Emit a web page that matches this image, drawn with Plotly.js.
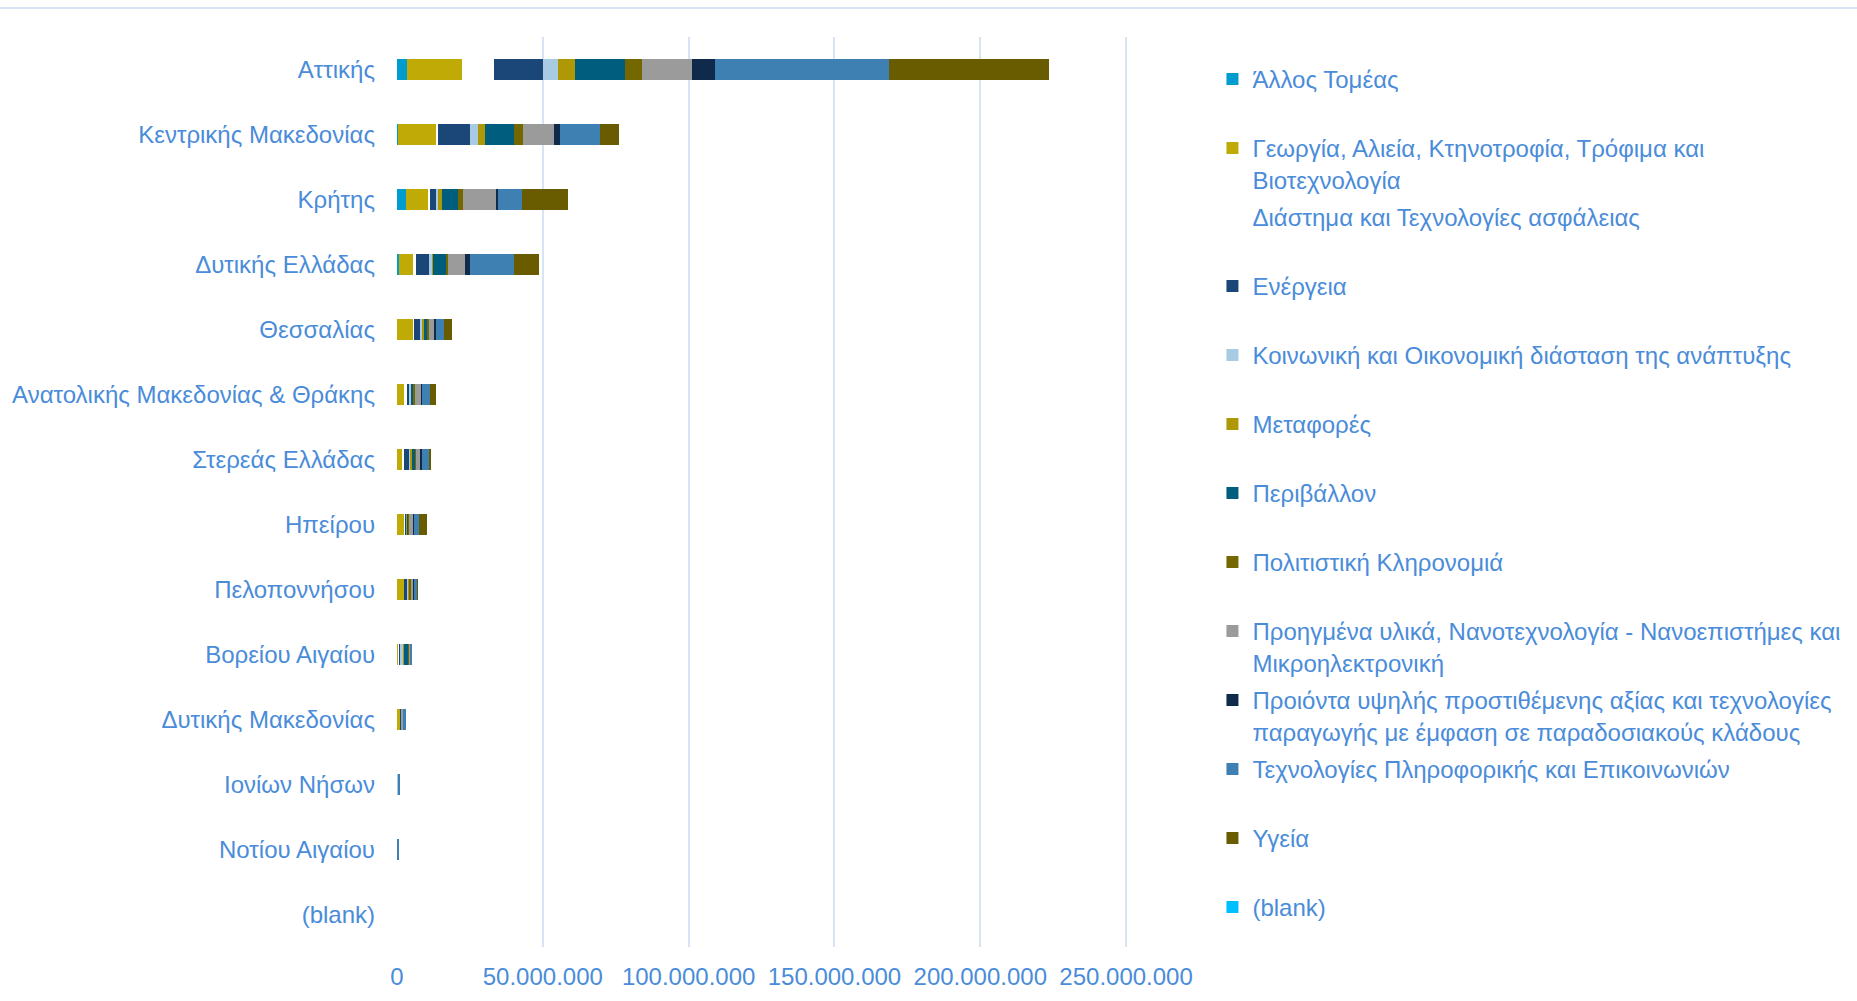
<!DOCTYPE html>
<html>
<head>
<meta charset="utf-8">
<script src="https://cdn.plot.ly/plotly-3.0.1.min.js"></script>
<style>
html,body{margin:0;padding:0;background:#fff;}
#chart{width:1857px;height:1001px;}
#topline{position:absolute;left:0;top:7px;width:1857px;height:2px;background:#D6E4F5;z-index:5;}
</style>
</head>
<body>
<div id="topline"></div>
<div id="chart"></div>
<script>
// Categories (top to bottom)
const regions = ["Αττικής","Κεντρικής Μακεδονίας","Κρήτης","Δυτικής Ελλάδας","Θεσσαλίας",
  "Ανατολικής Μακεδονίας & Θράκης","Στερεάς Ελλάδας","Ηπείρου","Πελοποννήσου","Βορείου Αιγαίου",
  "Δυτικής Μακεδονίας","Ιονίων Νήσων","Νοτίου Αιγαίου","(blank)"];

// Series values (euros), in the same order as regions
const allosTomeas   = [3.5e6, 0.2e6, 3.0e6, 0.6e6, 0.1e6, 0.1e6, 0.1e6, 0.1e6, 0, 0, 0, 0, 0, 0];
const georgia       = [18.7e6, 13.0e6, 7.9e6, 4.8e6, 5.5e6, 2.6e6, 1.9e6, 2.6e6, 2.6e6, 0.6e6, 0.9e6, 0, 0, 0];
const diastima      = [11.0e6, 0.9e6, 0.4e6, 1.1e6, 0.2e6, 0.6e6, 0.5e6, 0.2e6, 0.1e6, 0.3e6, 0, 0, 0, 0];
const energeia      = [16.7e6, 10.9e6, 2.0e6, 4.3e6, 2.0e6, 1.1e6, 1.7e6, 0.3e6, 0.6e6, 0.1e6, 0.7e6, 0, 0, 0];
const koinoniki     = [5.2e6, 2.7e6, 0.8e6, 1.2e6, 1.1e6, 0.4e6, 0.2e6, 0.2e6, 0.7e6, 1.2e6, 0, 0.5e6, 0, 0];
const metafores     = [6.1e6, 2.4e6, 1.2e6, 0.5e6, 0.3e6, 0.2e6, 0.7e6, 0.1e6, 0.2e6, 0.1e6, 0, 0, 0, 0];
const perivallon    = [16.9e6, 9.9e6, 5.5e6, 4.4e6, 1.0e6, 0.5e6, 1.2e6, 0.4e6, 0.2e6, 1.7e6, 0, 0, 0, 0];
const politistiki   = [5.8e6, 3.1e6, 1.9e6, 0.6e6, 0.8e6, 0.5e6, 0.2e6, 0.2e6, 0.3e6, 0.4e6, 0, 0, 0, 0];
const proigmena     = [17.4e6, 10.7e6, 11.4e6, 5.7e6, 2.0e6, 2.3e6, 1.5e6, 1.7e6, 1.1e6, 0.3e6, 0.6e6, 0, 0, 0];
const proionta      = [7.8e6, 2.2e6, 0.7e6, 1.9e6, 0.4e6, 0.3e6, 0.7e6, 0.1e6, 0.1e6, 0, 0, 0, 0, 0];
const tpe           = [59.5e6, 13.6e6, 8.2e6, 15.0e6, 2.6e6, 2.8e6, 2.3e6, 1.7e6, 1.2e6, 0.6e6, 0.8e6, 0.3e6, 0.5e6, 0];
const ygeia         = [54.9e6, 6.5e6, 15.7e6, 8.5e6, 2.7e6, 2.0e6, 0.6e6, 2.7e6, 0.1e6, 0, 0, 0, 0, 0];
const blankSeries   = [0, 0, 0, 0, 0, 0, 0, 0, 0, 0, 0, 0, 0, 0];

// Series names (legend)
const seriesNames = [
  "Άλλος Τομέας",
  "Γεωργία, Αλιεία, Κτηνοτροφία, Τρόφιμα και<br>Βιοτεχνολογία",
  "Διάστημα και Τεχνολογίες ασφάλειας",
  "Ενέργεια",
  "Κοινωνική και Οικονομική διάσταση της ανάπτυξης",
  "Μεταφορές",
  "Περιβάλλον",
  "Πολιτιστική Κληρονομιά",
  "Προηγμένα υλικά, Νανοτεχνολογία - Νανοεπιστήμες και<br>Μικροηλεκτρονική",
  "Προιόντα υψηλής προστιθέμενης αξίας και τεχνολογίες<br>παραγωγής με έμφαση σε παραδοσιακούς κλάδους",
  "Τεχνολογίες Πληροφορικής και Επικοινωνιών",
  "Υγεία",
  "(blank)"
];
const seriesValues = [allosTomeas, georgia, diastima, energeia, koinoniki, metafores, perivallon,
  politistiki, proigmena, proionta, tpe, ygeia, blankSeries];
const seriesColors = ["#009CD0","#C0AA05","#FFFFFF","#1A4778","#A9CAE3","#AE9806","#005D7E",
  "#756700","#9B9B9B","#0F2A4A","#3D80B1","#695C00","#00BFFF"];

const textColor = "#4A8CD9";
const font = "Liberation Sans, Arial, sans-serif";

const traces = seriesNames.map((name, i) => ({
  type: "bar",
  orientation: "h",
  name: name.indexOf("<br>") >= 0 ? name : name + "<br> ",
  y: regions,
  x: seriesValues[i],
  marker: {color: seriesColors[i], line: {width: 0}},
  legendgroup: "g" + i,
  hoverinfo: "x+y+name"
}));

const layout = {
  width: 1857, height: 1001,
  margin: {l: 397, r: 724, t: 37, b: 54},
  barmode: "stack",
  bargap: 0.685,
  separators: ",.",
  paper_bgcolor: "#fff",
  plot_bgcolor: "#fff",
  font: {family: font, size: 24, color: textColor},
  xaxis: {
    range: [0, 251e6],
    tickvals: [0, 50e6, 100e6, 150e6, 200e6, 250e6],
    tickformat: ",d",
    showgrid: true,
    gridcolor: "#D6E4F3",
    gridwidth: 1.5,
    zeroline: false,
    showline: false,
    ticks: "",
    ticklabelstandoff: 13,
    tickfont: {family: font, size: 24, color: textColor}
  },
  yaxis: {
    type: "category",
    autorange: "reversed",
    showgrid: false,
    zeroline: false,
    showline: false,
    ticks: "",
    ticklabelstandoff: 21,
    tickfont: {family: font, size: 24, color: textColor}
  },
  legend: {
    x: 1.114, xanchor: "left",
    y: 0.978, yanchor: "top",
    traceorder: "grouped",
    tracegroupgap: 3.6,
    valign: "top",
    font: {family: font, size: 24, color: textColor},
    bgcolor: "rgba(0,0,0,0)"
  },
  showlegend: true
};

Plotly.newPlot("chart", traces, layout, {displayModeBar: false, responsive: false});
</script>
</body>
</html>
